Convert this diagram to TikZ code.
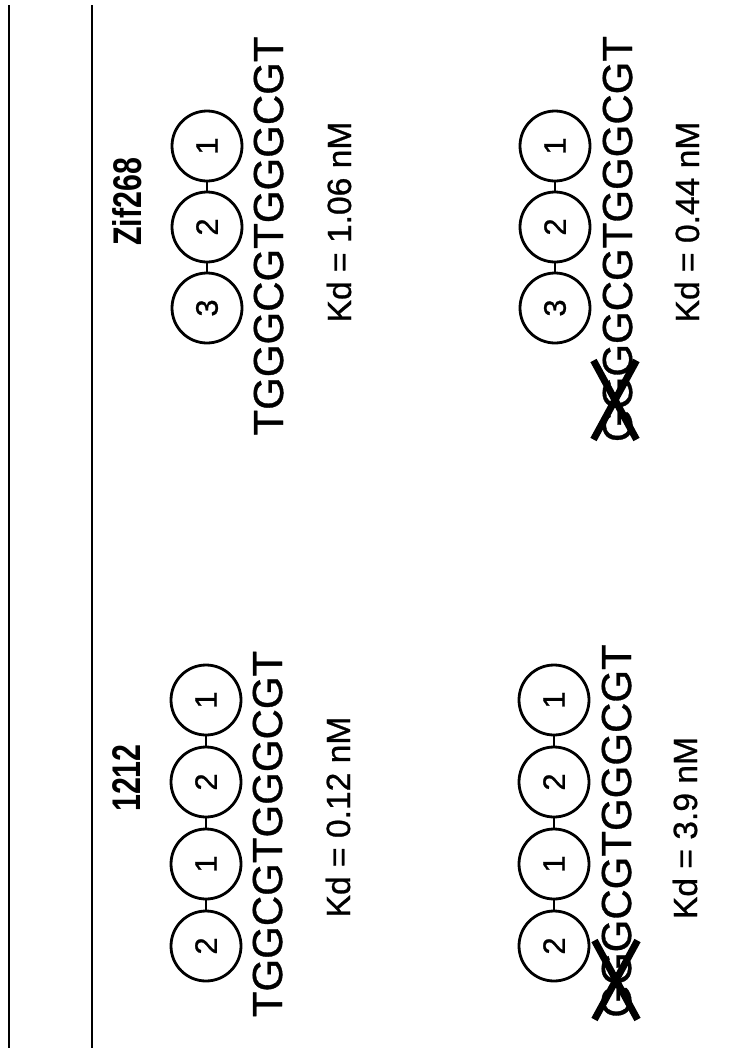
\documentclass[tikz,border=0pt]{standalone}
\usepackage{fontspec}
\usepackage{graphicx}
\setmainfont{Liberation Sans}
\newfontfamily\heavyfont{Liberation Sans}[FakeBold=0.8]
\usetikzlibrary{shapes.misc}
\newcommand{\ttltext}[1]{\scalebox{0.76}[1]{#1}}
\begin{document}
\begin{tikzpicture}[x=1pt,y=-1pt,
  zf/.style={circle, draw, line width=2.8pt, minimum size=70pt, inner sep=0pt, font=\heavyfont\fontsize{31}{31}\selectfont, rotate=90},
  link/.style={line width=2.4pt},
  seq/.style={rotate=90, anchor=base, inner sep=0pt, font=\heavyfont\fontsize{42}{42}\selectfont},
  kd/.style={rotate=90, anchor=base, inner sep=0pt, font=\heavyfont\fontsize{33.6}{33.6}\selectfont},
  ttl/.style={rotate=90, anchor=center, inner sep=0pt, font=\fontsize{40}{40}\selectfont\bfseries},
  rule/.style={line width=2.6pt},
  xmark/.style={cross out, draw, line width=7pt, minimum width=36pt, minimum height=72pt, inner sep=0pt}
]
\useasboundingbox (0,0) rectangle (735,1050);
% rules
\coordinate (r1t) at (9,5);   \coordinate (r1b) at (9,1048);
\coordinate (r2t) at (92,5);  \coordinate (r2b) at (92,1048);
\draw[rule] (r1t) -- (r1b);
\draw[rule] (r2t) -- (r2b);
% titles
\node[ttl] (t1) at (127,778) {\ttltext{1212}};
\node[ttl] (t2) at (127,202) {\ttltext{Zif268}};
% 1212 top
\node[zf] (a1) at (206,946) {2};
\node[zf] (a2) at (206,864) {1};
\node[zf] (a3) at (206,782) {2};
\node[zf] (a4) at (206,700) {1};
\draw[link] (a1) -- (a2);
\draw[link] (a2) -- (a3);
\draw[link] (a3) -- (a4);
\node[seq] (s1) at (282,834) {TGGCGTGGGCGT};
\node[kd] (k1) at (350,817) {Kd = 0.12 nM};
% Zif268 top
\node[zf] (b1) at (207,308) {3};
\node[zf] (b2) at (207,227) {2};
\node[zf] (b3) at (207,146) {1};
\draw[link] (b1) -- (b2);
\draw[link] (b2) -- (b3);
\node[seq] (s2) at (283,236) {TGGGCGTGGGCGT};
\node[kd] (k2) at (351,222) {Kd = 1.06 nM};
% 1212 bottom
\node[zf] (c1) at (554,946) {2};
\node[zf] (c2) at (554,864) {1};
\node[zf] (c3) at (554,782) {2};
\node[zf] (c4) at (554,700) {1};
\draw[link] (c1) -- (c2);
\draw[link] (c2) -- (c3);
\draw[link] (c3) -- (c4);
\node[seq] (s3) at (631,831) {GGGCGTGGGCGT};
\node[xmark] (x1) at (616,980) {};
\node[kd] (k3) at (697,828) {Kd = 3.9 nM};
% Zif268 bottom
\node[zf] (d1) at (555,308) {3};
\node[zf] (d2) at (555,227) {2};
\node[zf] (d3) at (555,146) {1};
\draw[link] (d1) -- (d2);
\draw[link] (d2) -- (d3);
\node[seq] (s4) at (632,239) {GGGGCGTGGGCGT};
\node[xmark] (x2) at (615,400) {};
\node[kd] (k4) at (699,222) {Kd = 0.44 nM};
\end{tikzpicture}
\end{document}
